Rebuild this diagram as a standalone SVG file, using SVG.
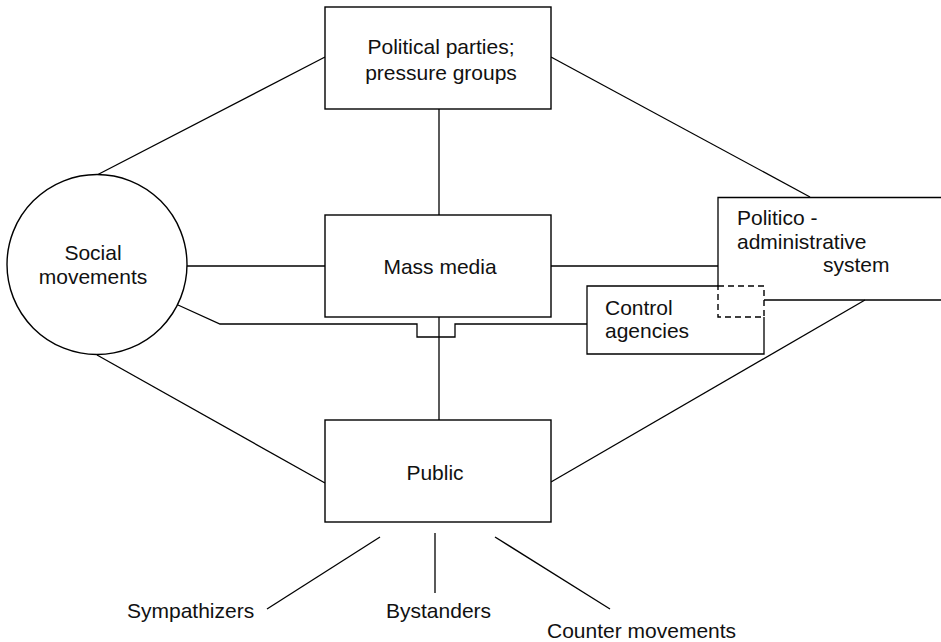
<svg xmlns="http://www.w3.org/2000/svg" width="941" height="642" viewBox="0 0 941 642">
<style>
.n{fill:#fff;stroke:#000;stroke-width:1.4}
.e{fill:none;stroke:#000;stroke-width:1.3}
.d{fill:none;stroke:#000;stroke-width:1.4;stroke-dasharray:6 4}
text{font-family:"Liberation Sans",Arial,Helvetica,sans-serif;font-size:21px;fill:#111}
.m{text-anchor:middle}
</style>
<rect width="941" height="642" fill="#fff"/>
<g id="connectors">
<line class="e" x1="97" y1="175" x2="325" y2="57"/>
<line class="e" x1="551" y1="57" x2="810" y2="197"/>
<line class="e" x1="439" y1="109" x2="439" y2="215"/>
<line class="e" x1="187" y1="266" x2="325" y2="266"/>
<line class="e" x1="551" y1="266" x2="718" y2="266"/>
<polyline class="e" points="178,305 220,324 417,324 417,337 455,337 455,324 587,324"/>
<line class="e" x1="439" y1="317" x2="439" y2="420"/>
<line class="e" x1="97" y1="355" x2="325" y2="483"/>
<line class="e" x1="551" y1="482" x2="865" y2="300"/>
<line class="e" x1="380" y1="537" x2="267" y2="609"/>
<line class="e" x1="435" y1="533" x2="435" y2="593"/>
<line class="e" x1="495" y1="537" x2="610" y2="609"/>
</g>
<g id="political-parties">
<rect class="n" x="325" y="7" width="226" height="102"/>
<text class="m" x="441" y="54">Political parties;</text>
<text class="m" x="441" y="80">pressure groups</text>
</g>
<g id="social-movements">
<circle class="n" cx="97" cy="264.5" r="90"/>
<text class="m" x="93" y="260">Social</text>
<text class="m" x="93" y="284">movements</text>
</g>
<g id="mass-media">
<rect class="n" x="325" y="215" width="226" height="102"/>
<text class="m" x="440" y="274">Mass media</text>
</g>
<g id="politico-administrative-system">
<path class="e" d="M941,197.5 H718 V286 M764,300 H941"/>
<text x="737" y="225">Politico -</text>
<text x="737" y="249">administrative</text>
<text x="823" y="272">system</text>
</g>
<g id="control-agencies">
<path class="e" d="M718,286 H587 V354 H764 V317"/>
<rect class="d" x="718" y="286" width="46" height="31"/>
<text x="605" y="315">Control</text>
<text x="605" y="338">agencies</text>
</g>
<g id="public">
<rect class="n" x="325" y="420" width="226" height="102"/>
<text class="m" x="435" y="480">Public</text>
</g>
<g id="sympathizers"><text x="127" y="618">Sympathizers</text></g>
<g id="bystanders"><text x="386" y="618">Bystanders</text></g>
<g id="counter-movements"><text x="547" y="638">Counter movements</text></g>
</svg>
